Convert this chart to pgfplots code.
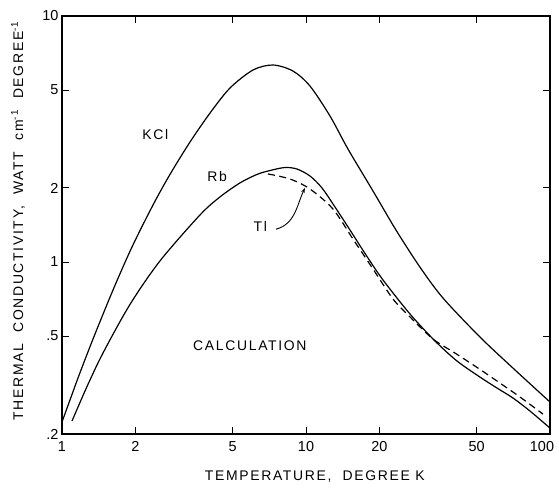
\documentclass[border=0pt]{standalone}
\usepackage{fontspec}
\setmainfont{Liberation Sans}
\newfontfamily\labfont[LetterSpace=12]{Liberation Sans}
\usepackage{pgfplots}
\pgfplotsset{compat=1.18}
\usetikzlibrary{arrows.meta}
\begin{document}
\begin{tikzpicture}
\begin{axis}[
  scale only axis, width=488bp, height=418bp,
  xmode=log, ymode=log,
  xmin=1, xmax=100, ymin=0.2, ymax=10,
  xtick={1,2,5,10,20,50,100}, xticklabels={1,2,5,10,20,50,\kern-16bp 100},
  ytick={0.2,0.5,1,2,5,10}, yticklabels={.2,.5,1,2,5,10},
  minor tick num=0, minor xtick={}, minor ytick={},
  tick align=inside, major tick length=7bp,
  every tick/.style={black, line width=1pt},
  axis line style={line width=1.3pt},
  ticklabel style={font=\fontsize{14.5}{16}\selectfont},
  xticklabel style={yshift=-4bp},
  label style={font=\labfont\fontsize{14}{16}\selectfont},
  xlabel={TEMPERATURE,\ \ DEGREE K},
  ylabel={THERMAL\ \ CONDUCTIVITY,\ \ WATT\ \ cm\textsuperscript{-1}\ \ DEGREE\textsuperscript{-1}},
  xlabel style={at={(axis description cs:0.518,-0.102)}, anchor=center},
  ylabel style={at={(axis description cs:-0.09,0.51)}, anchor=center},
]
% KCl
\addplot[black, line width=1.2pt, smooth] coordinates {
 (1,0.2237) (1.163,0.3377) (1.34,0.4864) (1.618,0.7693) (1.936,1.151) (2.36,1.705)
 (2.77,2.270) (3.346,3.074) (4.044,4.034) (4.88,5.096) (6.066,6.033) (7.32,6.322)
 (8.84,5.976) (10.38,5.193) (12.54,3.923) (14.86,2.88) (18.82,1.944) (23.38,1.349)
 (29.3,0.954) (36.43,0.714) (51.65,0.4955) (70.5,0.3707) (100,0.2697)
};
% Rb
\addplot[black, line width=1.2pt, smooth] coordinates {
 (1.099,0.2258) (1.266,0.3118) (1.472,0.4266) (1.90,0.6727) (2.521,1.0104) (3.678,1.554)
 (4.441,1.839) (5.364,2.097) (6.298,2.270) (7.12,2.355) (8.203,2.422) (9.185,2.388)
 (10.385,2.237) (11.63,2.000) (13.15,1.673) (15.15,1.349) (17.62,1.068) (20.69,0.845)
 (26.69,0.6146) (33.8,0.4775) (41.58,0.3960) (51.67,0.3406) (60.64,0.3075)
 (70.54,0.2800) (82.8,0.2479) (100,0.2114)
};
% Tl
\addplot[black, line width=1.2pt, smooth, dash pattern=on 7bp off 4.5bp] coordinates {
 (6.99,2.28) (8.6,2.175) (10.39,1.98) (12.9,1.642) (15.58,1.24) (18.82,0.937)
 (22.74,0.707) (26.7,0.598) (33.2,0.486) (40.8,0.4266) (50.7,0.3707) (62.4,0.322)
 (75.4,0.2826) (93.6,0.241)
};
\node[font=\labfont\fontsize{14}{16}\selectfont] at (axis cs:2.41,3.31) {KCl};
\node[font=\labfont\fontsize{14}{16}\selectfont] at (axis cs:4.32,2.22) {Rb};
\node[font=\labfont\fontsize{14}{16}\selectfont] at (axis cs:6.5,1.39) {Tl};
\draw[-{Stealth[length=5bp,width=3.5bp]}, line width=0.9pt] (axis cs:7.54,1.36) to[out=15,in=-115] (axis cs:9.9,2.0);
\node[font=\labfont\fontsize{14}{16}\selectfont] at (axis cs:5.89,0.456) {CALCULATION};
\end{axis}
\pgfresetboundingbox
\useasboundingbox ([shift={(-62bp,-55bp)}]current axis.south west) rectangle ([shift={(9bp,16bp)}]current axis.north east);
\end{tikzpicture}
\end{document}
